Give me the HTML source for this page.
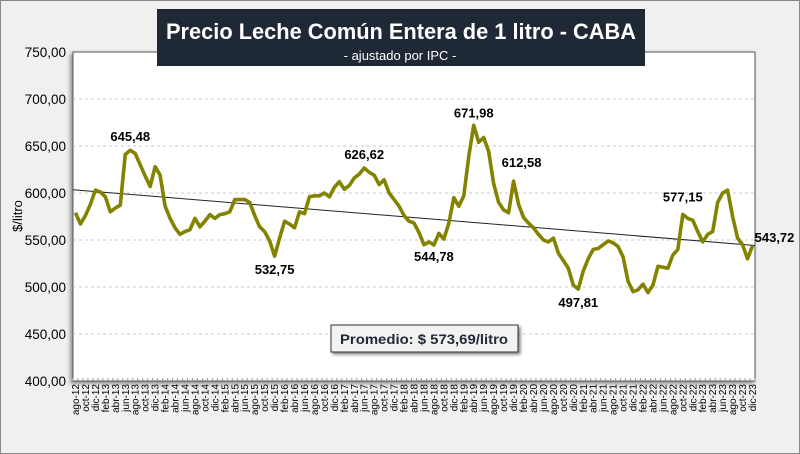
<!DOCTYPE html>
<html><head><meta charset="utf-8"><style>
body{margin:0;width:800px;height:454px;overflow:hidden;background:#f0f0f0;font-family:"Liberation Sans",sans-serif}
#wrap{position:absolute;left:0;top:0;width:798px;height:452px;border:1px solid #8a8a8a;background:#f0f0f0}
svg{position:absolute;left:0;top:0}
</style></head><body>
<div id="wrap"></div>
<svg id="chart" width="800" height="454">
<defs><filter id="sh" x="-10%" y="-10%" width="130%" height="130%"><feDropShadow dx="-2" dy="2" stdDeviation="2" flood-color="#000" flood-opacity="0.45"/></filter>
<filter id="sh2" x="-10%" y="-20%" width="130%" height="150%"><feDropShadow dx="2" dy="2" stdDeviation="1.5" flood-color="#000" flood-opacity="0.5"/></filter></defs>
<rect x="73" y="52" width="682" height="329" fill="#fff" stroke="#555" stroke-width="1" filter="url(#sh)"/>
<g id="grid"></g><g id="yax"></g><g id="xax"></g><g id="trend"></g><g id="series"></g><g id="labels"></g>
<rect x="157" y="9" width="488" height="57" fill="#1f2936"/>
<text x="166" y="39" textLength="470" lengthAdjust="spacingAndGlyphs" fill="#fff" font-size="22" font-weight="bold">Precio Leche Común Entera de 1 litro - CABA</text>
<text x="400" y="60" text-anchor="middle" fill="#fff" font-size="13">- ajustado por IPC -</text>
<text transform="translate(22,216) rotate(-90)" text-anchor="middle" font-size="13" fill="#000">$/litro</text>
<rect x="331" y="325" width="187" height="27" fill="#f2f2f2" stroke="#333" stroke-width="1" filter="url(#sh2)"/>
<text x="340" y="344" textLength="168" lengthAdjust="spacingAndGlyphs" font-size="14" font-weight="bold" fill="#1f2936">Promedio: $ 573,69/litro</text>
</svg>
<script>
const months=["ene","feb","mar","abr","may","jun","jul","ago","sep","oct","nov","dic"];
const values=[579,567,576,588,603,601,596,580,584,587,641,645.48,642,630,618,607,628,619,586,573,563,556,559,561,573,564,570,577,573,577,578,580,593,593,593,590,576,564,559,549,532.75,552,570,567,563,580,578,596,597,597,600,596,606,612,604,608,616,620,626.62,622,619,609,614,600,593,586,576,570,568,558,545,548,544.78,557,551,568,595,586,597,639,671.98,654,659,644,610,590,582,579,612.58,588,574,568,563,556,550,548,552,536,528,520,502,497.81,517,530,540,541,545,549,547,543,532,506,495,497,503,494,502,522,521,520,534,540,577.15,573,571,559,548,556,559,590,600,603,575,552,545,530,543.72];
const yTicks=[400,450,500,550,600,650,700,750];
const labelIdx=[11,40,58,72,80,88,101,122,136];
const labelDx=[0,0,0,0,0,8,0,0,22];
const labelDy=[-9,18,-9,16,-8,-14,18,-13,-4];
const ns="http://www.w3.org/2000/svg";
const X0=73,X1=755,Y0=381,Y1=52,N=values.length;
const cw=(X1-X0)/N;
const xs=i=>X0+cw*(i+0.5);
const ys=v=>Y0-(v-400)/(750-400)*(Y0-Y1);
const fmt=v=>v.toFixed(2).replace('.',',');
function mk(t,a,p){const e=document.createElementNS(ns,t);for(const k in a)e.setAttribute(k,a[k]);p.appendChild(e);return e;}
const grid=document.getElementById('grid'),yax=document.getElementById('yax');
yTicks.forEach(v=>{
 if(v>400&&v<750){const g=mk('line',{x1:X0,x2:X1,y1:ys(v),y2:ys(v),stroke:'#c8c8c8','stroke-dasharray':'3,3'},grid);
 
 }
 const t=mk('text',{x:66,y:ys(v)+5,'text-anchor':'end','font-size':13.5,fill:'#000'},yax);t.textContent=fmt(v);
 
 
});
const xax=document.getElementById('xax');
for(let i=0;i<=N;i++){const l=mk('line',{x1:X0+cw*i,x2:X0+cw*i,y1:Y0,y2:Y0-3,stroke:'#999'},xax);
 
 }
for(let i=0;i<N;i+=2){const m=(7+i)%12,yr=12+Math.floor((7+i)/12);
 const x=xs(i)+3.5;
 const t=mk('text',{transform:`translate(${x},384) rotate(-90)`,'text-anchor':'end','font-size':10,fill:'#000'},xax);
 t.textContent=months[m]+'-'+yr;
 
 }
let sx=0,sy=0,sxy=0,sxx=0;values.forEach((v,i)=>{sx+=i;sy+=v;sxy+=i*v;sxx+=i*i;});
const b=(N*sxy-sx*sy)/(N*sxx-sx*sx),a=(sy-b*sx)/N;
const tl=mk('line',{x1:X0,y1:ys(a+b*(-0.5)),x2:X1,y2:ys(a+b*(N-0.5)),stroke:'#222','stroke-width':1},document.getElementById('trend'));


const p=mk('polyline',{points:values.map((v,i)=>xs(i)+','+ys(v)).join(' '),fill:'none',stroke:'#838300','stroke-width':3.6,'stroke-linejoin':'round'},document.getElementById('series'));


const lg=document.getElementById('labels');
labelIdx.forEach((k,j)=>{const t=mk('text',{x:xs(k)+labelDx[j],y:ys(values[k])+labelDy[j],'text-anchor':'middle','font-size':13,'font-weight':'bold',fill:'#000'},lg);
 t.textContent=fmt(values[k]);
 
 });
</script>
</body></html>
